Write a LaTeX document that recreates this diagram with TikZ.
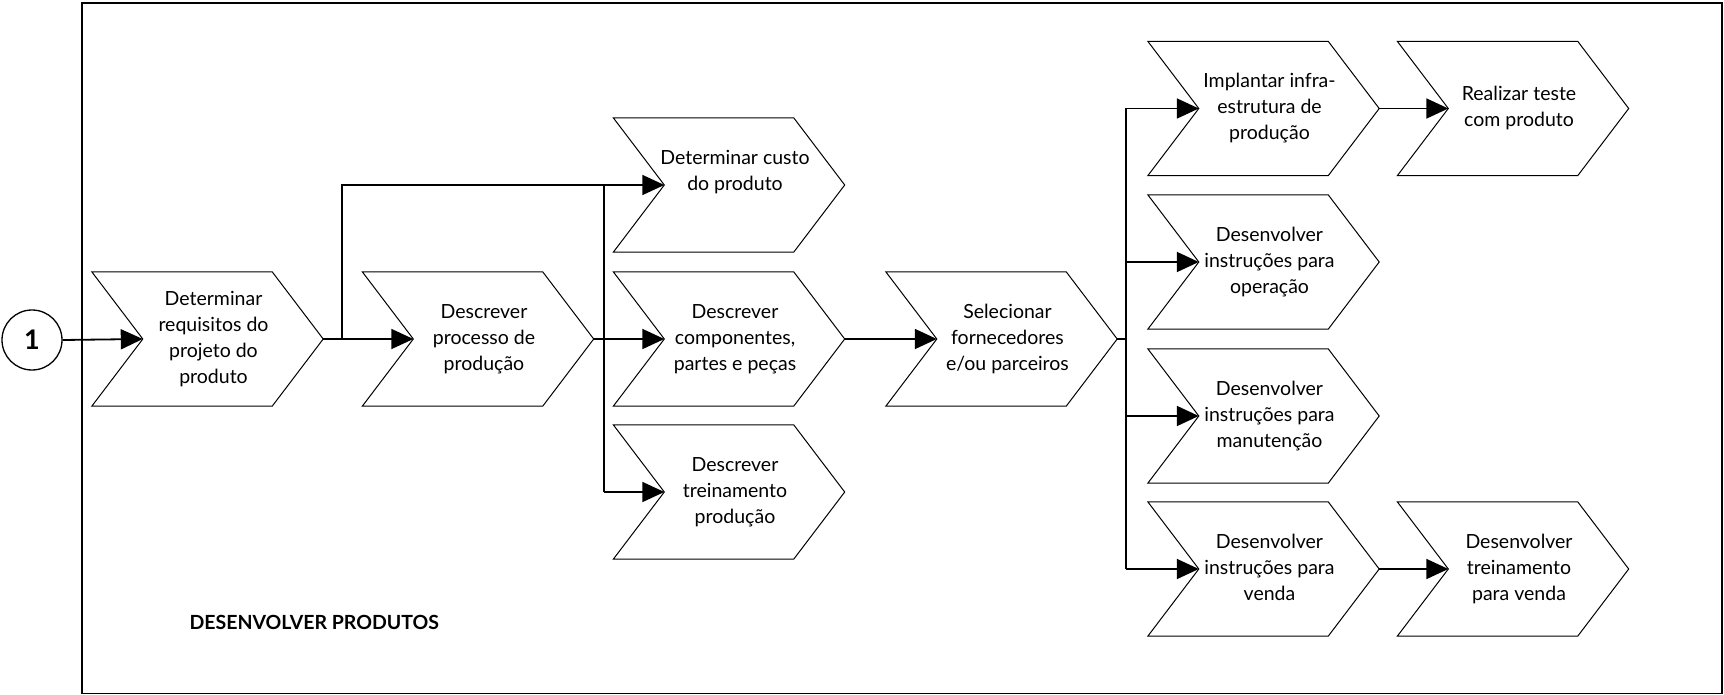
\documentclass[tikz,border=0pt]{standalone}
\usepackage{fontspec}
\setmainfont{Lato}
\usetikzlibrary{arrows.meta}

\tikzset{
  chevbox/.style={rectangle, minimum width=231pt, minimum height=134pt,
    inner sep=0pt, font=\fontsize{19.5}{26}\selectfont},
  chevline/.style={line width=1pt, line join=miter},
  flow/.style={line width=1.8pt, -{Triangle[length=22pt,width=20pt]}},
  bus/.style={line width=1.8pt},
}

% chevron step: name, centre x, centre y, text (text sits a little right of centre)
\newcommand\chevron[4]{%
  \node[chevbox] (#1) at (#2,#3)
    {\hspace*{12pt}\begin{tabular}{@{}c@{}}#4\end{tabular}};
  \draw[chevline] (#1.north west) -- ([xshift=-51pt]#1.north east) -- (#1.east)
    -- ([xshift=-51pt]#1.south east) -- (#1.south west)
    -- ([xshift=51pt]#1.west) -- cycle;
}
% entry point of a chevron (its notch)
\newcommand\notch[1]{([xshift=51pt]#1.west)}

\begin{document}
\begin{tikzpicture}[x=1pt,y=-1pt]
  \useasboundingbox (0,0) rectangle (1724,695);

  % process frame
  \draw[line width=1.5pt] (82,3) rectangle (1722,693.5);
  \node[anchor=west, font=\bfseries\fontsize{19.5}{22}\selectfont] (title)
    at (186,622) {DESENVOLVER PRODUTOS};

  % connector circle
  \node[circle, draw, line width=1.3pt, minimum size=60pt, inner sep=0pt,
    font=\bfseries\fontsize{27}{27}\selectfont] (c1) at (32,340) {1};

  % steps
  \chevron{A}{207.5}{339}{Determinar\\requisitos do\\projeto do\\produto}
  \chevron{B}{478}{339}{Descrever\\processo de\\produção}
  \chevron{C1}{729}{185}{Determinar custo\\do produto\\\mbox{}}
  \chevron{C2}{729}{339}{Descrever\\componentes,\\partes e peças}
  \chevron{C3}{729}{492}{Descrever\\treinamento\\produção}
  \chevron{D}{1001.5}{339}{Selecionar\\fornecedores\\e/ou parceiros}
  \chevron{E1}{1263.5}{108.5}{Implantar infra-\\estrutura de\\produção}
  \chevron{E2}{1263.5}{262}{Desenvolver\\instruções para\\operação}
  \chevron{E3}{1263.5}{416}{Desenvolver\\instruções para\\manutenção}
  \chevron{E4}{1263.5}{569}{Desenvolver\\instruções para\\venda}
  \chevron{F1}{1513}{108.5}{Realizar teste\\com produto}
  \chevron{F2}{1513}{569}{Desenvolver\\treinamento\\para venda}

  % junction points of the branching lines
  \coordinate (j1) at ([xshift=19pt]A.east);
  \coordinate (j2) at ([xshift=10pt]B.east);
  \coordinate (j3) at ([xshift=9pt]D.east);

  % flow
  \draw[flow] (c1.east) -- \notch{A};
  \draw[flow] (A.east) -- \notch{B};
  \draw[flow] (j1) |- \notch{C1};
  \draw[flow] (B.east) -- \notch{C2};
  \draw[bus] (j2 |- C1.center) -- (j2 |- C3.center);
  \draw[flow] (j2 |- C3.center) -- \notch{C3};
  \draw[flow] (C2.east) -- \notch{D};
  \draw[bus] (D.east) -- (j3);
  \draw[bus] (j3 |- E1.center) -- (j3 |- E4.center);
  \foreach \e in {E1,E2,E3,E4}
    \draw[flow] (j3 |- \e.center) -- \notch{\e};
  \draw[flow] (E1.east) -- \notch{F1};
  \draw[flow] (E4.east) -- \notch{F2};
\end{tikzpicture}
\end{document}
